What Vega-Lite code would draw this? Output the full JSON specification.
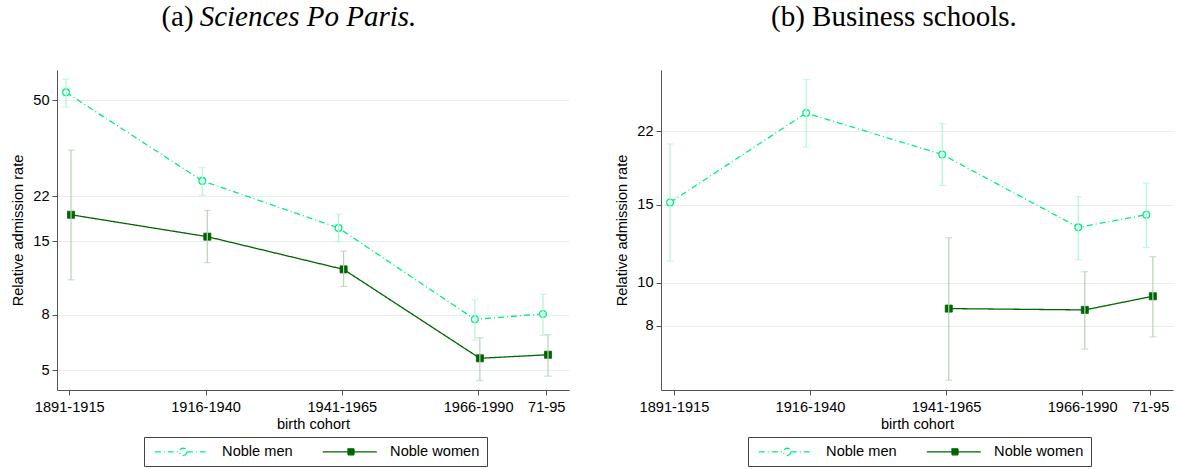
{
  "$schema": "https://vega.github.io/schema/vega-lite/v6.json",
  "padding": {"left": 10, "top": 3, "right": 5, "bottom": 3},
  "background": "white",
  "datasets": {
    "d": [
      {"panel": "a", "series": "Noble men", "cohort": "1891-1915", "x": 0.976, "rate": 53.4, "lo": 47.1, "hi": 59.7},
      {"panel": "a", "series": "Noble men", "cohort": "1916-1940", "x": 1.976, "rate": 25.1, "lo": 22.2, "hi": 28.1},
      {"panel": "a", "series": "Noble men", "cohort": "1941-1965", "x": 2.976, "rate": 16.8, "lo": 14.9, "hi": 18.9},
      {"panel": "a", "series": "Noble men", "cohort": "1966-1990", "x": 3.976, "rate": 7.71, "lo": 6.46, "hi": 9.11},
      {"panel": "a", "series": "Noble men", "cohort": "71-95", "x": 4.476, "rate": 8.07, "lo": 6.72, "hi": 9.54},
      {"panel": "a", "series": "Noble women", "cohort": "1891-1915", "x": 1.013, "rate": 18.8, "lo": 10.8, "hi": 32.6},
      {"panel": "a", "series": "Noble women", "cohort": "1916-1940", "x": 2.013, "rate": 15.6, "lo": 12.5, "hi": 19.5},
      {"panel": "a", "series": "Noble women", "cohort": "1941-1965", "x": 3.013, "rate": 11.8, "lo": 10.2, "hi": 13.8},
      {"panel": "a", "series": "Noble women", "cohort": "1966-1990", "x": 4.013, "rate": 5.53, "lo": 4.58, "hi": 6.59},
      {"panel": "a", "series": "Noble women", "cohort": "71-95", "x": 4.513, "rate": 5.70, "lo": 4.75, "hi": 6.76},
      {"panel": "b", "series": "Noble men", "cohort": "1891-1915", "x": 0.972, "rate": 15.2, "lo": 11.2, "hi": 20.6},
      {"panel": "b", "series": "Noble men", "cohort": "1916-1940", "x": 1.972, "rate": 24.2, "lo": 20.3, "hi": 28.8},
      {"panel": "b", "series": "Noble men", "cohort": "1941-1965", "x": 2.972, "rate": 19.5, "lo": 16.6, "hi": 22.9},
      {"panel": "b", "series": "Noble men", "cohort": "1966-1990", "x": 3.972, "rate": 13.35, "lo": 11.28, "hi": 15.66},
      {"panel": "b", "series": "Noble men", "cohort": "71-95", "x": 4.472, "rate": 14.26, "lo": 12.03, "hi": 16.8},
      {"panel": "b", "series": "Noble women", "cohort": "1941-1965", "x": 3.02, "rate": 8.75, "lo": 6.03, "hi": 12.65},
      {"panel": "b", "series": "Noble women", "cohort": "1966-1990", "x": 4.02, "rate": 8.69, "lo": 7.09, "hi": 10.6},
      {"panel": "b", "series": "Noble women", "cohort": "71-95", "x": 4.52, "rate": 9.33, "lo": 7.55, "hi": 11.46}
    ]
  },
  "data": {"name": "d"},
  "spacing": 45,
  "resolve": {"scale": {"x": "independent", "y": "independent", "stroke": "independent", "strokeDash": "independent"}},
  "hconcat": [
    {
      "title": {
        "text": "(a)\u00a0\u00a0\u00a0\u00a0\u00a0\u00a0\u00a0\u00a0\u00a0\u00a0\u00a0\u00a0\u00a0\u00a0\u00a0\u00a0\u00a0\u00a0\u00a0\u00a0\u00a0\u00a0\u00a0\u00a0\u00a0\u00a0\u00a0\u00a0\u00a0\u00a0\u00a0\u200b",
        "subtitle": "\u200b\u00a0\u00a0\u00a0\u00a0\u00a0Sciences Po Paris.",
        "subtitleFont": "Liberation Serif",
        "subtitleFontSize": 29,
        "subtitleFontStyle": "italic",
        "subtitleColor": "#000",
        "subtitlePadding": -29
      },
      "width": 512,
      "height": 320,
      "transform": [{"filter": "datum.panel === 'a'"}],
      "encoding": {
        "x": {"field": "x", "type": "quantitative", "title": "birth cohort",
              "scale": {"domain": [0.91, 4.667], "nice": false, "zero": false},
              "axis": {"values": [1, 2, 3, 4, 4.5], "labelExpr": "datum.value === 1 ? '1891-1915' : datum.value === 2 ? '1916-1940' : datum.value === 3 ? '1941-1965' : datum.value === 4 ? '1966-1990' : '71-95'"}}
      },
      "layer": [
        {
          "mark": {"type": "line", "strokeWidth": 1.3},
          "encoding": {
            "y": {"field": "rate", "type": "quantitative", "title": "Relative admission rate",
                  "scale": {"type": "log", "domain": [4.22, 64.6], "nice": false, "zero": false},
                  "axis": {"values": [5, 8, 15, 22, 50]}},
            "stroke": {"field": "series", "type": "nominal",
                       "scale": {"domain": ["Noble men", "Noble women"], "range": ["#00ee80", "#006400"]},
                       "legend": {"title": null, "orient": "none", "legendX": 87, "legendY": 367, "direction": "horizontal",
                                  "encode": {"symbols": {"update": {
                                    "shape": {"signal": "datum.value === 'Noble men' ? 'M-1,0H5.2M7,0H12.5M7,0A0.9,0.9 0 1 1 5.2,0A0.9,0.9 0 1 1 7,0' : 'M-1,0H12.5M5.3,-0.75H6.8V0.75H5.3Z'"},
                                    "fill": {"signal": "datum.value === 'Noble men' ? 'white' : '#006400'"},
                                    "strokeDash": {"signal": "datum.value === 'Noble men' ? [5,3,1,3] : [1,0]"},
                                    "opacity": {"value": 1}
                                  }}}}},
            "strokeDash": {"field": "series", "type": "nominal",
                           "scale": {"domain": ["Noble men", "Noble women"], "range": [[6, 3, 1, 3], [1, 0]]},
                           "legend": null}
          }
        },
        {
          "transform": [{"filter": "datum.series === 'Noble men'"}],
          "mark": {"type": "point", "shape": "circle", "filled": true, "fill": "white", "stroke": "#00ee80", "size": 45, "strokeWidth": 1.3, "opacity": 1},
          "encoding": {"y": {"field": "rate", "type": "quantitative", "title": "Relative admission rate"}}
        },
        {
          "transform": [{"filter": "datum.series === 'Noble women'"}],
          "mark": {"type": "point", "shape": "square", "filled": true, "fill": "#006400", "stroke": "#006400", "size": 50, "strokeWidth": 0.8, "opacity": 1},
          "encoding": {"y": {"field": "rate", "type": "quantitative", "title": "Relative admission rate"}}
        },
        {
          "mark": {"type": "rule", "strokeWidth": 1.2},
          "encoding": {
            "y": {"field": "lo", "type": "quantitative", "title": "Relative admission rate"},
            "y2": {"field": "hi"},
            "stroke": {"condition": {"test": "datum.series === 'Noble men'", "value": "#b2f5d2"}, "value": "#b8d1b8"}
          }
        },
        {
          "mark": {"type": "tick", "orient": "horizontal", "size": 7, "thickness": 1.2},
          "encoding": {
            "y": {"field": "lo", "type": "quantitative", "title": "Relative admission rate"},
            "color": {"condition": {"test": "datum.series === 'Noble men'", "value": "#b2f5d2"}, "value": "#b8d1b8"}
          }
        },
        {
          "mark": {"type": "tick", "orient": "horizontal", "size": 7, "thickness": 1.2},
          "encoding": {
            "y": {"field": "hi", "type": "quantitative", "title": "Relative admission rate"},
            "color": {"condition": {"test": "datum.series === 'Noble men'", "value": "#b2f5d2"}, "value": "#b8d1b8"}
          }
        }
      ]
    },
    {
      "title": {"text": "(b) Business schools."},
      "width": 512,
      "height": 320,
      "transform": [{"filter": "datum.panel === 'b'"}],
      "encoding": {
        "x": {"field": "x", "type": "quantitative", "title": "birth cohort",
              "scale": {"domain": [0.905, 4.668], "nice": false, "zero": false},
              "axis": {"values": [1, 2, 3, 4, 4.5], "labelExpr": "datum.value === 1 ? '1891-1915' : datum.value === 2 ? '1916-1940' : datum.value === 3 ? '1941-1965' : datum.value === 4 ? '1966-1990' : '71-95'"}}
      },
      "layer": [
        {
          "mark": {"type": "line", "strokeWidth": 1.3},
          "encoding": {
            "y": {"field": "rate", "type": "quantitative", "title": "Relative admission rate",
                  "scale": {"type": "log", "domain": [5.73, 30.26], "nice": false, "zero": false},
                  "axis": {"values": [8, 10, 15, 22]}},
            "stroke": {"field": "series", "type": "nominal",
                       "scale": {"domain": ["Noble men", "Noble women"], "range": ["#00ee80", "#006400"]},
                       "legend": {"title": null, "orient": "none", "legendX": 87, "legendY": 367, "direction": "horizontal",
                                  "encode": {"symbols": {"update": {
                                    "shape": {"signal": "datum.value === 'Noble men' ? 'M-1,0H5.2M7,0H12.5M7,0A0.9,0.9 0 1 1 5.2,0A0.9,0.9 0 1 1 7,0' : 'M-1,0H12.5M5.3,-0.75H6.8V0.75H5.3Z'"},
                                    "fill": {"signal": "datum.value === 'Noble men' ? 'white' : '#006400'"},
                                    "strokeDash": {"signal": "datum.value === 'Noble men' ? [5,3,1,3] : [1,0]"},
                                    "opacity": {"value": 1}
                                  }}}}},
            "strokeDash": {"field": "series", "type": "nominal",
                           "scale": {"domain": ["Noble men", "Noble women"], "range": [[6, 3, 1, 3], [1, 0]]},
                           "legend": null}
          }
        },
        {
          "transform": [{"filter": "datum.series === 'Noble men'"}],
          "mark": {"type": "point", "shape": "circle", "filled": true, "fill": "white", "stroke": "#00ee80", "size": 45, "strokeWidth": 1.3, "opacity": 1},
          "encoding": {"y": {"field": "rate", "type": "quantitative", "title": "Relative admission rate"}}
        },
        {
          "transform": [{"filter": "datum.series === 'Noble women'"}],
          "mark": {"type": "point", "shape": "square", "filled": true, "fill": "#006400", "stroke": "#006400", "size": 50, "strokeWidth": 0.8, "opacity": 1},
          "encoding": {"y": {"field": "rate", "type": "quantitative", "title": "Relative admission rate"}}
        },
        {
          "mark": {"type": "rule", "strokeWidth": 1.2},
          "encoding": {
            "y": {"field": "lo", "type": "quantitative", "title": "Relative admission rate"},
            "y2": {"field": "hi"},
            "stroke": {"condition": {"test": "datum.series === 'Noble men'", "value": "#b2f5d2"}, "value": "#b8d1b8"}
          }
        },
        {
          "mark": {"type": "tick", "orient": "horizontal", "size": 7, "thickness": 1.2},
          "encoding": {
            "y": {"field": "lo", "type": "quantitative", "title": "Relative admission rate"},
            "color": {"condition": {"test": "datum.series === 'Noble men'", "value": "#b2f5d2"}, "value": "#b8d1b8"}
          }
        },
        {
          "mark": {"type": "tick", "orient": "horizontal", "size": 7, "thickness": 1.2},
          "encoding": {
            "y": {"field": "hi", "type": "quantitative", "title": "Relative admission rate"},
            "color": {"condition": {"test": "datum.series === 'Noble men'", "value": "#b2f5d2"}, "value": "#b8d1b8"}
          }
        }
      ]
    }
  ],
  "config": {
    "view": {"stroke": null},
    "font": "Liberation Sans",
    "title": {"font": "Liberation Serif", "fontSize": 29, "fontWeight": "normal", "color": "#000", "anchor": "middle", "frame": "bounds", "offset": 38},
    "axis": {
      "labelFont": "Liberation Sans", "labelFontSize": 14.6, "labelColor": "#000",
      "titleFont": "Liberation Sans", "titleFontSize": 14.6, "titleFontWeight": "normal", "titleColor": "#000",
      "domainColor": "#555", "tickColor": "#555", "tickSize": 5, "domainWidth": 1, "tickWidth": 1,
      "gridColor": "#e6eeee", "gridWidth": 1.2
    },
    "axisX": {"grid": false, "labelPadding": 4, "titlePadding": 3, "labelFlush": false},
    "axisY": {"grid": true, "labelPadding": 3, "titlePadding": 7},
    "legend": {
      "labelFont": "Liberation Sans", "labelFontSize": 14.6, "labelColor": "#000",
      "strokeColor": "#444", "fillColor": "white", "padding": 7.5, "columnPadding": 26,
      "labelOffset": 56, "symbolSize": 64, "symbolStrokeWidth": 1.3, "cornerRadius": 0
    }
  }
}
